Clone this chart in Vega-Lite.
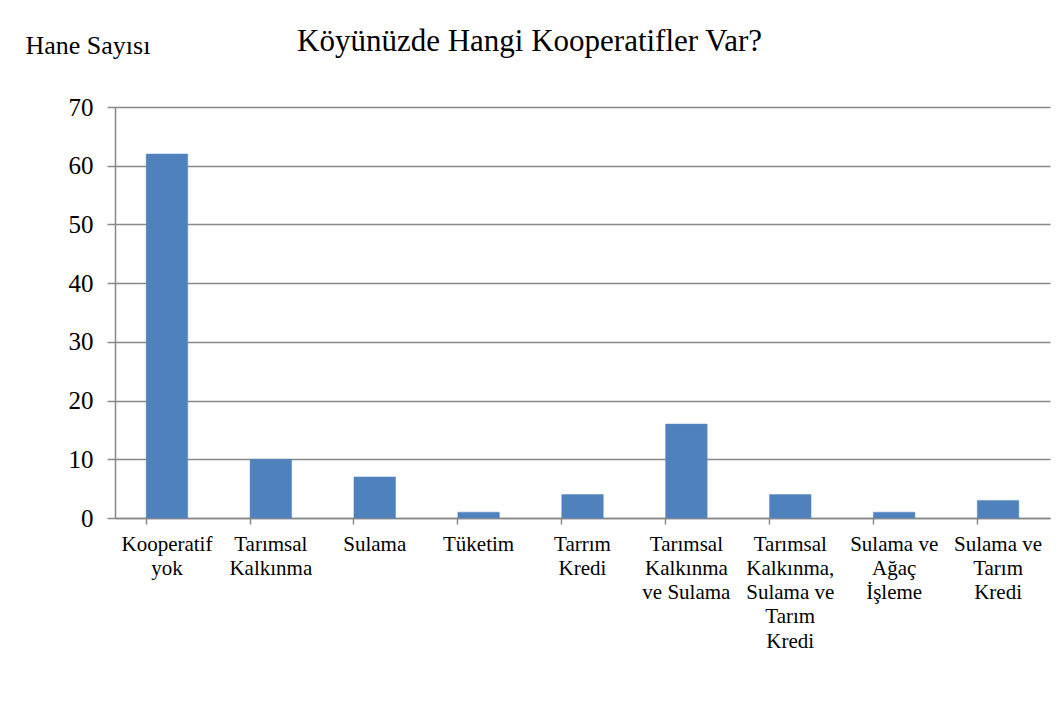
{
  "$schema": "https://vega.github.io/schema/vega-lite/v6.json",
  "width": 935,
  "height": 411,
  "autosize": "none",
  "padding": {"left": 115, "top": 107, "right": 9, "bottom": 188},
  "background": "white",
  "title": {
    "text": "Köyünüzde Hangi Kooperatifler Var?",
    "anchor": "start",
    "frame": "group",
    "dx": 182,
    "dy": 50,
    "offset": 0,
    "font": "Liberation Serif",
    "fontSize": 31,
    "fontWeight": "normal",
    "color": "black",
    "baseline": "alphabetic"
  },
  "data": {
    "values": [
      {"kooperatif": "Kooperatif yok", "hane": 62},
      {"kooperatif": "Tarımsal Kalkınma", "hane": 10},
      {"kooperatif": "Sulama", "hane": 7},
      {"kooperatif": "Tüketim", "hane": 1},
      {"kooperatif": "Tarrım Kredi", "hane": 4},
      {"kooperatif": "Tarımsal Kalkınma ve Sulama", "hane": 16},
      {"kooperatif": "Tarımsal Kalkınma, Sulama ve Tarım Kredi", "hane": 4},
      {"kooperatif": "Sulama ve Ağaç İşleme", "hane": 1},
      {"kooperatif": "Sulama ve Tarım Kredi", "hane": 3}
    ]
  },
  "mark": {"type": "bar", "color": "#4F81BD", "stroke": "#5B8AC4", "strokeWidth": 0.5},
  "encoding": {
    "x": {
      "field": "kooperatif",
      "type": "nominal",
      "sort": null,
      "scale": {"paddingInner": 0.6, "paddingOuter": 0.3},
      "axis": {
        "title": null,
        "labelAngle": 0,
        "bandPosition": 0,
        "domainColor": "#888888",
        "domainWidth": 1.5,
        "tickColor": "#888888",
        "tickWidth": 1.5,
        "tickSize": 6,
        "grid": false,
        "labelFont": "Liberation Serif",
        "labelFontSize": 21,
        "labelColor": "black",
        "labelPadding": 9,
        "labelLineHeight": 24.3,
        "labelBaseline": "top",
        "labelExpr": "{'Kooperatif yok': ['Kooperatif', 'yok'], 'Tarımsal Kalkınma': ['Tarımsal', 'Kalkınma'], 'Sulama': 'Sulama', 'Tüketim': 'Tüketim', 'Tarrım Kredi': ['Tarrım', 'Kredi'], 'Tarımsal Kalkınma ve Sulama': ['Tarımsal', 'Kalkınma', 've Sulama'], 'Tarımsal Kalkınma, Sulama ve Tarım Kredi': ['Tarımsal', 'Kalkınma,', 'Sulama ve', 'Tarım', 'Kredi'], 'Sulama ve Ağaç İşleme': ['Sulama ve', 'Ağaç', 'İşleme'], 'Sulama ve Tarım Kredi': ['Sulama ve', 'Tarım', 'Kredi']}[datum.value]"
      }
    },
    "y": {
      "field": "hane",
      "type": "quantitative",
      "scale": {"domain": [0, 70], "nice": false},
      "axis": {
        "values": [0, 10, 20, 30, 40, 50, 60, 70],
        "title": "Hane Sayısı",
        "titleAngle": 0,
        "titleAlign": "left",
        "titleBaseline": "alphabetic",
        "titleX": -90,
        "titleY": -54,
        "titleFont": "Liberation Serif",
        "titleFontSize": 26,
        "titleFontWeight": "normal",
        "titleColor": "black",
        "labelFont": "Liberation Serif",
        "labelFontSize": 25,
        "labelColor": "black",
        "labelPadding": 14,
        "domainColor": "#888888",
        "domainWidth": 1.5,
        "tickColor": "#888888",
        "tickWidth": 1.5,
        "tickSize": 8,
        "grid": true,
        "gridColor": "#888888",
        "gridWidth": 1.5
      }
    }
  },
  "config": {"view": {"stroke": null}}
}
